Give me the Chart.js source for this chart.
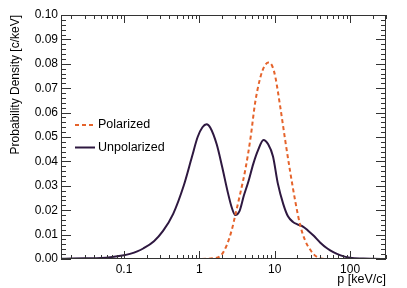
<!DOCTYPE html>
<html>
<head>
<meta charset="utf-8">
<script src="https://cdn.jsdelivr.net/npm/chart.js@4"></script>
<style>
  html, body { margin: 0; padding: 0; background: #fff; }
  #wrap { width: 407px; height: 288px; }
</style>
</head>
<body>
<div id="wrap"><canvas id="c"></canvas></div>
<script>
// values
const unpolX = [0.015, 0.02, 0.03, 0.05, 0.07, 0.1, 0.12, 0.15, 0.18, 0.25, 0.33, 0.45, 0.62, 0.8, 0.95, 1.1, 1.25, 1.4, 1.7, 2.0, 2.4, 2.7, 3.0, 3.4, 3.9, 4.5, 5.2, 6.0, 7.1, 8.2, 9.5, 11, 13, 15, 17.5, 20, 24, 28, 33, 40, 50, 60, 75, 100, 150, 200, 300];
const unpolY = [0.0001, 0.0002, 0.0003, 0.0004, 0.0008, 0.0015, 0.0021, 0.0031, 0.0043, 0.0073, 0.0115, 0.0185, 0.030, 0.042, 0.050, 0.054, 0.0552, 0.0538, 0.047, 0.038, 0.027, 0.021, 0.018, 0.0195, 0.026, 0.032, 0.039, 0.0445, 0.0488, 0.047, 0.042, 0.031, 0.0225, 0.0175, 0.0152, 0.0142, 0.0132, 0.0115, 0.0095, 0.0068, 0.0043, 0.0028, 0.0015, 0.0005, 0.0002, 0.0001, 0.0];

const polX = [0.015, 0.5, 1.0, 1.5, 1.9, 2.3, 2.7, 3.0, 3.5, 4.1, 4.8, 5.5, 6.4, 7.3, 8.3, 9.3, 10.2, 11.9, 13.8, 16.2, 18.8, 21.9, 25.5, 30, 35, 43, 60, 300];
const polY = [0, 0, 0, 0.0003, 0.0012, 0.0055, 0.012, 0.018, 0.027, 0.037, 0.05, 0.064, 0.074, 0.079, 0.0805, 0.079, 0.0746, 0.062, 0.0486, 0.035, 0.0235, 0.0136, 0.0074, 0.0036, 0.0012, 0.0001, 0, 0];

const xTickVals = [0.1, 1, 10, 100];
const xTickLabels = ['0.1', '1', '10', '100'];
const seriesNames = ['Polarized', 'Unpolarized'];

const xMin = 0.0146, xMax = 300;
const yMin = 0, yMax = 0.1;

const COL_POL = '#e5632b';
const COL_UNPOL = '#2e1840';
const AXIS = '#333';
const FONT = '"Liberation Sans", Arial, sans-serif';

const pts = (xs, ys) => xs.map((x, i) => ({ x: x, y: ys[i] }));

// ROOT-like frame with inward ticks on all four sides
const framePlugin = {
    id: 'frame',
    afterDraw(chart) {
        const ctx = chart.ctx, a = chart.chartArea;
        const xs = chart.scales.x, ys = chart.scales.y;
        ctx.save();
        ctx.strokeStyle = AXIS;
        ctx.lineWidth = 1;
        ctx.strokeRect(Math.round(a.left) + 0.5, Math.round(a.top) + 0.5, Math.round(a.right - a.left) - 1, Math.round(a.bottom - a.top) - 1);
        ctx.beginPath();
        // y ticks: major every 0.01, minor every 0.002
        for (let k = 0; k <= 50; k++) {
            const v = k * 0.002;
            const py = Math.round(ys.getPixelForValue(v)) + 0.5;
            const len = (k % 5 === 0) ? 10 : 5;
            ctx.moveTo(a.left, py); ctx.lineTo(a.left + len, py);
            ctx.moveTo(a.right, py); ctx.lineTo(a.right - len, py);
        }
        // x log ticks
        for (let d = -2; d <= 2; d++) {
            for (let m = 1; m <= 9; m++) {
                const v = m * Math.pow(10, d);
                if (v < xMin || v > xMax) continue;
                const px = Math.round(xs.getPixelForValue(v)) + 0.5;
                const len = (m === 1) ? 8 : 4;
                ctx.moveTo(px, a.bottom); ctx.lineTo(px, a.bottom - len);
                ctx.moveTo(px, a.top); ctx.lineTo(px, a.top + len);
            }
        }
        ctx.stroke();

        // legend
        const rows = [
            { name: seriesNames[0], color: COL_POL, dash: [4, 3], y: 125 },
            { name: seriesNames[1], color: COL_UNPOL, dash: [], y: 147.5 }
        ];
        ctx.font = '12.5px ' + FONT;
        ctx.textBaseline = 'middle';
        ctx.textAlign = 'left';
        rows.forEach(r => {
            ctx.beginPath();
            ctx.setLineDash(r.dash);
            ctx.strokeStyle = r.color;
            ctx.lineWidth = 2;
            ctx.moveTo(75, r.y); ctx.lineTo(95, r.y);
            ctx.stroke();
            ctx.setLineDash([]);
            ctx.fillStyle = '#000';
            ctx.fillText(r.name, 98, r.y);
        });
        ctx.restore();
    }
};

new Chart(document.getElementById('c'), {
    type: 'line',
    data: {
        datasets: [
            { label: seriesNames[0], data: pts(polX, polY), borderColor: COL_POL, borderWidth: 2, borderDash: [4, 3], pointRadius: 0, cubicInterpolationMode: 'monotone', fill: false },
            { label: seriesNames[1], data: pts(unpolX, unpolY), borderColor: COL_UNPOL, borderWidth: 2, pointRadius: 0, cubicInterpolationMode: 'monotone', fill: false }
        ]
    },
    options: {
        responsive: true,
        maintainAspectRatio: false,
        animation: false,
        layout: { padding: { top: 15, right: 21, left: 0, bottom: 0 } },
        plugins: { legend: { display: false }, tooltip: { enabled: false } },
        scales: {
            x: {
                type: 'logarithmic',
                min: xMin, max: xMax,
                grid: { display: false, drawTicks: false },
                border: { display: false },
                afterBuildTicks: s => { s.ticks = xTickVals.map(v => ({ value: v })); },
                afterFit: s => { s.height = 29; },
                ticks: {
                    color: '#000', font: { family: FONT, size: 12 }, padding: 3,
                    autoSkip: false, maxRotation: 0,
                    callback: (v) => { const i = xTickVals.indexOf(v); return i >= 0 ? xTickLabels[i] : ''; }
                },
                title: { display: true, text: 'p [keV/c]', align: 'end', color: '#000', font: { family: FONT, size: 12.5 }, padding: { top: 0, bottom: 1 } }
            },
            y: {
                min: yMin, max: yMax,
                grid: { display: false, drawTicks: false },
                border: { display: false },
                afterFit: s => { s.width = 61; },
                ticks: {
                    stepSize: 0.01, color: '#000', font: { family: FONT, size: 12 }, padding: 3,
                    callback: v => v.toFixed(2)
                },
                title: { display: true, text: 'Probability Density [c/keV]', align: 'end', color: '#000', font: { family: FONT, size: 12 }, padding: { top: 8, bottom: 0 } }
            }
        }
    },
    plugins: [framePlugin]
});
</script>
</body>
</html>
